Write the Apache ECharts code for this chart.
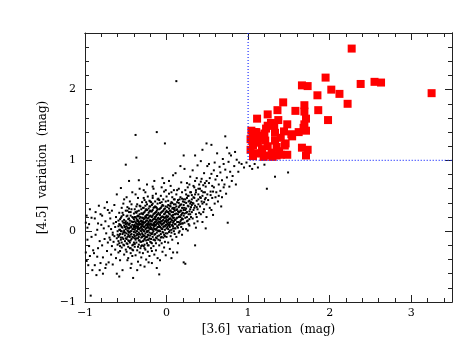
<!DOCTYPE html>
<html>
<head>
<meta charset="UTF-8">
<title>[3.6] vs [4.5] variation</title>
<script src="https://cdn.jsdelivr.net/npm/echarts@6/dist/echarts.min.js"></script>
<style>
html, body { margin: 0; padding: 0; background: #fff; }
#chart { width: 466px; height: 360px; }
</style>
</head>
<body>
<div id="chart"></div>
<script>
// all sources: [3.6] variation, [4.5] variation
var dots = [
  [-0.99,0.12],[-0.98,-0.42],[-0.97,0.05],[-0.95,-0.21],[-0.94,0.31],[-0.93,-0.91],[-0.92,-0.08],[-0.91,-0.55],
  [-0.89,-0.31],[-0.88,0.18],[-0.87,-0.05],[-0.86,-0.62],[-0.85,0.02],[-0.84,-0.24],[-0.83,0.36],[-0.82,-0.14],[-0.81,-0.45],[-0.80,0.09],
  [-0.79,-0.2],[-0.79,0.22],[-0.78,-0.37],[-0.77,0.04],[-0.76,-0.11],[-0.75,-0.52],[-0.75,0.14],[-0.74,-0.03],[-0.73,-0.28],[-0.73,0.41],[-0.72,-0.16],[-0.71,0.07],[-0.71,-0.44],[-0.70,-0.09],[-0.70,0.26],
  [-0.69,-0.12],[-0.69,0.18],[-0.68,-0.33],[-0.68,0.03],[-0.67,-0.21],[-0.67,0.29],[-0.66,-0.02],[-0.66,-0.47],[-0.65,0.11],[-0.65,-0.15],[-0.64,0.37],[-0.64,-0.07],[-0.63,-0.26],[-0.63,0.06],[-0.62,-0.38],[-0.62,0.2],[-0.61,-0.1],[-0.61,0.52],[-0.61,-0.6],[-0.60,0.0],[-0.60,-0.19],[-0.62,0.13],[-0.66,-0.05],
  [-0.59,-0.08],[-0.59,0.15],[-0.59,-0.3],[-0.58,0.02],[-0.58,-0.17],[-0.58,0.26],[-0.57,-0.04],[-0.57,0.09],[-0.57,-0.41],[-0.56,0.19],[-0.56,-0.12],[-0.56,0.0],[-0.55,-0.23],[-0.55,0.33],[-0.55,0.06],[-0.54,-0.09],[-0.54,0.14],[-0.54,-0.55],[-0.53,-0.02],[-0.53,0.23],[-0.53,-0.19],[-0.52,0.08],[-0.52,-0.33],[-0.52,0.45],[-0.51,-0.06],[-0.51,0.12],[-0.51,-0.14],[-0.50,0.03],[-0.50,0.29],[-0.50,-0.26],[-0.56,0.61],[-0.58,-0.64],[-0.53,0.39],[-0.57,-0.21],[-0.52,-0.01],
  [-0.49,-0.11],[-0.49,0.07],[-0.49,0.21],[-0.49,-0.29],[-0.48,0.01],[-0.48,-0.18],[-0.48,0.34],[-0.48,0.12],[-0.47,-0.05],[-0.47,-0.38],[-0.47,0.17],[-0.47,0.04],[-0.46,-0.14],[-0.46,0.27],[-0.46,-0.02],[-0.46,0.09],[-0.45,-0.24],[-0.45,0.15],[-0.45,-0.08],[-0.45,0.42],[-0.44,0.0],[-0.44,-0.31],[-0.44,0.22],[-0.44,-0.13],[-0.43,0.06],[-0.43,-0.46],[-0.43,0.31],[-0.43,-0.04],[-0.42,0.13],[-0.42,-0.2],[-0.42,0.03],[-0.42,0.55],[-0.41,-0.09],[-0.41,0.19],[-0.41,-0.66],[-0.41,-0.27],[-0.40,0.08],[-0.40,-0.16],[-0.40,0.25],[-0.40,-0.01],[-0.46,0.71],[-0.44,-0.52],[-0.48,-0.41],[-0.45,0.05],[-0.43,0.38],[-0.47,-0.22],[-0.42,-0.35],[-0.49,0.48],[-0.50,0.94],
  [-0.39,-0.07],[-0.39,0.14],[-0.39,0.31],[-0.39,-0.22],[-0.39,0.02],[-0.38,-0.12],[-0.38,0.2],[-0.38,0.07],[-0.38,-0.34],[-0.38,1.36],[-0.37,0.0],[-0.37,0.26],[-0.37,-0.16],[-0.37,0.11],[-0.37,1.04],[-0.36,-0.04],[-0.36,0.38],[-0.36,-0.27],[-0.36,0.16],[-0.36,0.05],[-0.35,-0.1],[-0.35,0.22],[-0.35,-0.43],[-0.35,0.09],[-0.35,0.47],[-0.34,-0.02],[-0.34,-0.19],[-0.34,0.13],[-0.34,0.29],[-0.34,-0.08],[-0.33,0.04],[-0.33,-0.3],[-0.33,0.18],[-0.33,0.6],[-0.33,-0.13],[-0.32,0.1],[-0.32,-0.05],[-0.32,0.35],[-0.32,-0.24],[-0.32,0.01],[-0.31,0.15],[-0.31,-0.15],[-0.31,0.25],[-0.31,-0.37],[-0.31,0.06],[-0.30,-0.03],[-0.30,0.19],[-0.30,-0.2],[-0.30,0.41],[-0.30,0.08],[-0.36,-0.55],[-0.38,0.52],[-0.34,0.72],[-0.32,-0.48],[-0.37,-0.06],[-0.33,0.11],[-0.35,0.03],[-0.31,-0.09],[-0.39,0.09],[-0.36,0.21],
  [-0.29,0.02],[-0.29,-0.14],[-0.29,0.24],[-0.29,0.1],[-0.29,-0.31],[-0.28,0.06],[-0.28,0.33],[-0.28,-0.07],[-0.28,0.17],[-0.28,-0.21],[-0.27,0.0],[-0.27,0.12],[-0.27,0.44],[-0.27,-0.11],[-0.27,0.27],[-0.26,-0.03],[-0.26,0.2],[-0.26,-0.26],[-0.26,0.08],[-0.26,0.55],[-0.25,0.15],[-0.25,-0.08],[-0.25,0.31],[-0.25,0.04],[-0.25,-0.4],[-0.24,0.1],[-0.24,-0.17],[-0.24,0.23],[-0.24,-0.01],[-0.24,0.38],[-0.23,0.06],[-0.23,-0.12],[-0.23,0.18],[-0.23,-0.29],[-0.23,0.49],[-0.22,0.01],[-0.22,0.26],[-0.22,-0.06],[-0.22,0.13],[-0.22,-0.2],[-0.21,0.09],[-0.21,0.35],[-0.21,-0.1],[-0.21,0.21],[-0.21,-0.35],[-0.20,0.03],[-0.20,0.16],[-0.20,-0.15],[-0.20,0.42],[-0.20,0.07],[-0.27,-0.5],[-0.24,0.66],[-0.22,-0.44],[-0.28,0.58],[-0.26,0.36],[-0.23,0.0],[-0.29,0.14],[-0.21,-0.02],[-0.25,0.22],[-0.27,-0.19],[-0.24,0.05],[-0.2,0.29],[-0.28,0.47],[-0.22,0.32],[-0.26,-0.09],[-0.23,0.11],
  [-0.19,0.05],[-0.19,-0.11],[-0.19,0.28],[-0.19,0.14],[-0.19,-0.24],[-0.18,0.09],[-0.18,0.37],[-0.18,-0.04],[-0.18,0.2],[-0.18,-0.17],[-0.17,0.02],[-0.17,0.16],[-0.17,0.47],[-0.17,-0.08],[-0.17,0.3],[-0.16,0.0],[-0.16,0.24],[-0.16,-0.21],[-0.16,0.11],[-0.16,0.6],[-0.15,0.18],[-0.15,-0.05],[-0.15,0.34],[-0.15,0.07],[-0.15,-0.33],[-0.14,0.13],[-0.14,-0.13],[-0.14,0.26],[-0.14,0.03],[-0.14,0.42],[-0.13,0.09],[-0.13,-0.09],[-0.13,0.21],[-0.13,-0.27],[-0.13,0.53],[-0.12,0.04],[-0.12,0.29],[-0.12,-0.02],[-0.12,0.16],[-0.12,1.4],[-0.11,0.12],[-0.11,0.39],[-0.11,-0.07],[-0.11,0.24],[-0.11,-0.38],[-0.10,0.06],[-0.10,0.19],[-0.10,-0.12],[-0.10,0.46],[-0.10,0.1],[-0.18,-0.45],[-0.15,0.71],[-0.12,-0.52],[-0.17,0.63],[-0.14,0.35],[-0.16,0.08],[-0.19,0.41],[-0.11,0.01],[-0.13,0.27],[-0.18,-0.28],[-0.15,0.12],[-0.09,-0.61],[-0.17,0.5],[-0.12,0.33],[-0.16,-0.12],[-0.14,0.17],
  [-0.09,0.08],[-0.09,-0.06],[-0.09,0.31],[-0.09,0.17],[-0.09,-0.2],[-0.08,0.12],[-0.08,0.4],[-0.08,0.0],[-0.08,0.23],[-0.08,-0.13],[-0.07,0.05],[-0.07,0.19],[-0.07,0.5],[-0.07,-0.04],[-0.07,0.33],[-0.06,0.03],[-0.06,0.27],[-0.06,-0.17],[-0.06,0.14],[-0.06,0.62],[-0.05,0.21],[-0.05,-0.01],[-0.05,0.37],[-0.05,0.1],[-0.05,-0.29],[-0.04,0.16],[-0.04,-0.09],[-0.04,0.29],[-0.04,0.06],[-0.04,0.45],[-0.03,0.12],[-0.03,-0.05],[-0.03,0.24],[-0.03,-0.23],[-0.03,0.56],[-0.02,0.07],[-0.02,0.32],[-0.02,0.02],[-0.02,0.19],[-0.02,1.24],[-0.01,0.15],[-0.01,0.42],[-0.01,-0.03],[-0.01,0.27],[-0.01,-0.34],[0.0,0.09],[0.0,0.22],[0.0,-0.08],[0.0,0.49],[0.0,0.13],[-0.08,-0.41],[-0.05,0.75],[-0.03,0.68],[-0.06,0.35],[-0.09,0.44],[-0.02,-0.15],[-0.07,0.11],[-0.04,0.2],[-0.01,0.58],[-0.06,-0.08],
  [0.01,0.11],[0.01,-0.03],[0.01,0.34],[0.01,0.2],[0.02,0.15],[0.02,0.43],[0.02,0.03],[0.02,-0.16],[0.03,0.25],[0.03,0.08],[0.03,0.53],[0.03,-0.01],[0.04,0.18],[0.04,0.36],[0.04,0.06],[0.04,-0.25],[0.05,0.13],[0.05,0.29],[0.05,-0.07],[0.05,0.64],[0.06,0.22],[0.06,0.02],[0.06,0.41],[0.06,0.16],[0.07,0.09],[0.07,0.32],[0.07,-0.12],[0.07,0.48],[0.08,0.19],[0.08,0.04],[0.08,0.27],[0.08,-0.3],[0.09,0.14],[0.09,0.38],[0.09,0.0],[0.09,0.58],[0.1,0.24],[0.1,0.1],[0.1,-0.04],[0.1,0.45],[0.12,2.12],[0.03,0.71],[0.06,-0.38],[0.08,0.79],[0.02,0.27],[0.04,0.1],[0.07,0.21],[0.09,0.31],[0.05,0.39],[0.01,0.06],[0.03,0.17],[0.06,0.55],[0.08,0.12],[0.1,0.33],
  [0.11,0.16],[0.11,0.38],[0.11,0.04],[0.12,0.25],[0.12,-0.08],[0.12,0.52],[0.13,0.19],[0.13,0.31],[0.13,0.07],[0.14,0.44],[0.14,0.13],[0.14,-0.17],[0.15,0.27],[0.15,0.6],[0.15,0.09],[0.16,0.21],[0.16,0.36],[0.16,0.0],[0.17,0.14],[0.17,0.48],[0.17,0.29],[0.18,0.06],[0.18,0.23],[0.18,0.69],[0.19,0.33],[0.19,0.11],[0.19,-0.05],[0.2,0.26],[0.2,0.42],[0.2,0.17],[0.11,0.82],[0.13,-0.3],[0.15,0.4],[0.17,0.92],[0.19,0.55],[0.14,0.24],[0.16,0.12],[0.12,0.35],[0.18,0.38],[0.2,0.03],[0.13,0.58],[0.17,0.2],[0.15,-0.02],[0.19,0.18],[0.21,-0.44],
  [0.21,0.22],[0.21,0.45],[0.22,0.12],[0.22,0.33],[0.23,0.58],[0.23,0.19],[0.24,0.03],[0.24,0.4],[0.25,0.27],[0.25,0.68],[0.26,0.15],[0.26,0.36],[0.27,0.5],[0.27,0.24],[0.28,0.08],[0.28,0.43],[0.29,0.31],[0.29,0.77],[0.3,0.2],[0.3,0.55],[0.22,0.88],[0.24,0.26],[0.26,0.62],[0.28,0.17],[0.23,-0.46],[0.25,0.47],[0.27,0.1],[0.29,0.39],[0.21,0.3],[0.3,0.34],[0.24,0.52],[0.26,0.01],[0.28,0.66],[0.22,0.41],[0.25,0.14],[0.29,0.24],[0.21,1.07],
  [0.31,0.27],[0.31,0.51],[0.32,0.18],[0.32,0.4],[0.33,0.64],[0.33,0.3],[0.34,0.11],[0.34,0.47],[0.35,0.36],[0.35,-0.2],[0.36,0.58],[0.36,0.24],[0.37,0.43],[0.37,0.75],[0.38,0.31],[0.38,0.14],[0.39,0.52],[0.39,0.38],[0.4,0.66],[0.4,0.26],[0.32,0.86],[0.34,0.33],[0.36,0.05],[0.38,0.93],[0.33,0.48],[0.35,0.71],[0.37,0.2],[0.39,0.45],[0.31,0.37],[0.36,0.55],[0.35,1.07],
  [0.41,0.35],[0.41,0.6],[0.42,0.24],[0.42,0.47],[0.43,0.74],[0.44,0.39],[0.44,0.13],[0.45,0.55],[0.46,0.31],[0.46,0.82],[0.47,0.45],[0.48,0.63],[0.48,0.04],[0.49,0.38],[0.5,0.52],[0.5,0.92],[0.43,0.57],[0.45,0.27],[0.47,0.68],[0.49,0.2],[0.42,0.99],[0.44,0.5],[0.46,0.41],[0.48,0.47],[0.44,1.15],[0.49,1.24],
  [0.51,0.44],[0.52,0.68],[0.53,0.33],[0.54,0.56],[0.55,0.81],[0.56,0.47],[0.57,0.23],[0.58,0.62],[0.59,0.39],[0.6,0.73],[0.52,0.95],[0.54,0.51],[0.56,0.64],[0.58,0.86],[0.6,0.48],[0.53,0.75],[0.57,0.56],[0.59,0.97],[0.55,0.3],[0.55,1.22],
  [0.61,0.55],[0.62,0.78],[0.63,0.42],[0.64,0.66],[0.65,0.91],[0.66,0.57],[0.67,0.35],[0.68,0.72],[0.69,1.02],[0.7,0.62],[0.62,1.1],[0.64,0.5],[0.66,0.83],[0.68,0.48],[0.7,0.95],
  [0.71,0.66],[0.72,0.87],[0.73,0.53],[0.74,0.76],[0.75,0.12],[0.76,0.98],[0.77,0.63],[0.78,0.84],[0.79,1.07],[0.8,0.71],[0.74,1.18],[0.72,1.34],[0.77,1.1],
  [0.81,0.78],[0.83,0.92],[0.85,0.66],[0.86,1.01],[0.88,0.84],[0.89,0.97],[0.84,1.12],
  [0.92,0.95],[0.95,0.9],[0.98,0.97],[1.02,0.92],[1.05,0.88],[1.08,0.95],[1.12,0.9],[1.2,0.94],[1.23,0.6],[1.33,0.77],[1.49,0.83]
];

// extra sources where the cloud is densest, and along the left edge
var denseDots = [
  [-0.99,-0.3],[-0.98,0.22],[-0.97,-0.12],[-0.96,-0.48],[-0.95,0.1],[-0.94,-0.35],[-0.92,0.19],[-0.9,-0.27],[-0.88,-0.48],[-0.87,0.27],[-0.85,-0.36],[-0.84,0.11],[-0.82,-0.55],[-0.81,0.24],[-0.78,-0.6],[-0.76,0.33],[-0.74,-0.47],[-0.72,0.3],
  [-0.6,-0.05],[-0.59,0.07],[-0.59,-0.14],[-0.58,0.1],[-0.58,-0.06],[-0.57,0.02],[-0.57,0.17],[-0.56,-0.09],[-0.56,0.08],[-0.55,-0.16],[-0.55,0.0],[-0.55,0.21],[-0.54,0.05],[-0.54,-0.04],[-0.53,0.12],[-0.53,-0.11],[-0.52,0.01],[-0.52,0.16],[-0.52,-0.2],[-0.51,0.06],[-0.51,-0.02],[-0.5,0.1],[-0.5,-0.1],[-0.54,0.26],[-0.57,-0.28],
  [-0.5,0.14],[-0.49,-0.03],[-0.49,0.11],[-0.49,-0.17],[-0.48,0.05],[-0.48,-0.08],[-0.48,0.22],[-0.47,0.0],[-0.47,0.1],[-0.47,-0.13],[-0.46,0.04],[-0.46,0.18],[-0.46,-0.07],[-0.45,0.11],[-0.45,-0.01],[-0.45,-0.16],[-0.44,0.07],[-0.44,0.27],[-0.44,-0.05],[-0.43,0.14],[-0.43,0.0],[-0.43,-0.11],[-0.42,0.09],[-0.42,0.2],[-0.42,-0.08],[-0.41,0.03],[-0.41,0.13],[-0.41,-0.19],[-0.4,0.06],[-0.4,0.17],[-0.4,-0.05],[-0.46,0.32],[-0.44,-0.24],[-0.48,0.29],[-0.42,-0.26],
  [-0.39,0.05],[-0.39,0.2],[-0.39,-0.1],[-0.38,0.12],[-0.38,-0.02],[-0.38,0.27],[-0.37,0.07],[-0.37,-0.1],[-0.37,0.18],[-0.36,0.0],[-0.36,0.1],[-0.36,0.28],[-0.35,-0.05],[-0.35,0.15],[-0.35,0.06],[-0.34,0.21],[-0.34,0.03],[-0.34,-0.13],[-0.33,0.09],[-0.33,0.24],[-0.33,-0.04],[-0.32,0.14],[-0.32,0.05],[-0.32,-0.15],[-0.31,0.1],[-0.31,0.31],[-0.31,0.0],[-0.3,0.13],[-0.3,-0.08],[-0.3,0.25],[-0.39,-0.18],[-0.37,0.35],[-0.35,-0.22],[-0.33,0.36],[-0.31,-0.21],[-0.38,0.04],[-0.36,0.14],[-0.34,0.1],[-0.32,0.2],[-0.3,0.03],
  [-0.29,0.07],[-0.29,0.19],[-0.29,-0.05],[-0.28,0.12],[-0.28,0.0],[-0.28,0.26],[-0.27,0.06],[-0.27,0.18],[-0.27,-0.06],[-0.26,0.13],[-0.26,0.03],[-0.26,0.29],[-0.25,0.09],[-0.25,-0.13],[-0.25,0.19],[-0.24,0.0],[-0.24,0.15],[-0.24,0.3],[-0.23,0.08],[-0.23,-0.05],[-0.23,0.23],[-0.22,0.1],[-0.22,0.19],[-0.22,-0.12],[-0.21,0.04],[-0.21,0.15],[-0.21,0.28],[-0.2,0.11],[-0.2,-0.06],[-0.2,0.22],[-0.29,0.33],[-0.27,-0.24],[-0.25,0.41],[-0.23,-0.2],[-0.21,0.43],[-0.28,-0.13],[-0.26,0.21],[-0.24,-0.08],[-0.22,0.05],[-0.2,0.35],
  [-0.19,0.1],[-0.19,0.21],[-0.19,-0.03],[-0.18,0.14],[-0.18,0.03],[-0.18,0.28],[-0.17,0.09],[-0.17,0.22],[-0.17,-0.02],[-0.16,0.17],[-0.16,0.05],[-0.16,0.33],[-0.15,0.1],[-0.15,0.25],[-0.15,-0.12],[-0.14,0.08],[-0.14,0.2],[-0.14,-0.04],[-0.13,0.14],[-0.13,0.34],[-0.13,0.02],[-0.12,0.11],[-0.12,0.23],[-0.12,-0.1],[-0.11,0.18],[-0.11,0.06],[-0.11,0.31],[-0.1,0.14],[-0.1,0.26],[-0.1,0.0],[-0.19,-0.16],[-0.17,0.39],[-0.15,0.03],[-0.13,-0.17],[-0.11,0.45],
  [-0.09,0.13],[-0.09,0.24],[-0.09,0.01],[-0.08,0.17],[-0.08,0.06],[-0.08,0.32],[-0.07,0.14],[-0.07,0.26],[-0.07,-0.09],[-0.06,0.2],[-0.06,0.09],[-0.06,0.41],[-0.05,0.15],[-0.05,0.28],[-0.05,0.03],[-0.04,0.11],[-0.04,0.36],[-0.04,-0.02],[-0.03,0.19],[-0.03,0.31],[-0.03,0.07],[-0.02,0.14],[-0.02,0.25],[-0.02,-0.07],[-0.01,0.2],[-0.01,0.09],[-0.01,0.35],[0.0,0.17],[0.0,0.29],[0.0,0.04],
  [0.01,0.15],[0.01,0.27],[0.02,0.09],[0.02,0.21],[0.03,0.32],[0.03,0.12],[0.04,0.24],[0.04,0.01],[0.05,0.18],[0.05,0.35],[0.06,0.08],[0.06,0.27],[0.07,0.15],[0.07,0.4],[0.08,0.23],[0.08,0.07],[0.09,0.19],[0.09,0.45],[0.1,0.16],[0.1,0.29],[0.02,0.37],[0.04,0.29],[0.06,-0.02],[0.08,0.33],[0.1,0.04],
  [0.11,0.24],[0.11,0.1],[0.12,0.3],[0.12,0.18],[0.13,0.41],[0.13,0.13],[0.14,0.28],[0.14,0.05],[0.15,0.2],[0.15,0.34],[0.16,0.27],[0.16,0.45],[0.17,0.1],[0.17,0.37],[0.18,0.29],[0.18,0.16],[0.19,0.25],[0.19,0.46],[0.2,0.33],[0.2,0.11],
  [0.21,0.37],[0.22,0.25],[0.23,0.45],[0.24,0.32],[0.25,0.2],[0.26,0.5],[0.27,0.35],[0.28,0.28],[0.29,0.55],[0.3,0.41],[0.23,0.3],[0.27,0.42],
  [0.31,0.45],[0.33,0.39],[0.35,0.52],[0.37,0.34],[0.39,0.6],[0.41,0.48],[0.43,0.42],[0.45,0.65],[0.47,0.55],[0.49,0.71],[0.34,0.62],[0.42,0.7]
];

// selected sources (both variations > 1 mag)
var bigVar = [
  [2.27,2.58],[1.95,2.17],[1.66,2.06],[1.73,2.05],[2.38,2.08],[2.55,2.11],[2.63,2.10],[3.25,1.95],
  [2.02,2.0],[2.12,1.94],[1.85,1.92],[2.22,1.80],[1.43,1.82],[1.69,1.78],[1.36,1.71],[1.58,1.70],
  [1.86,1.71],[1.69,1.69],[1.24,1.65],[1.98,1.57],[1.11,1.59],[1.71,1.59],[1.37,1.57],[1.28,1.53],
  [1.48,1.51],[1.69,1.51],[1.32,1.49],[1.22,1.45],[1.08,1.40],[1.44,1.41],[1.62,1.40],[1.71,1.42],
  [1.33,1.39],[1.06,1.35],[1.13,1.32],[1.54,1.34],[1.40,1.32],[1.05,1.28],[1.21,1.28],[1.33,1.28],
  [1.46,1.24],[1.06,1.21],[1.17,1.16],[1.35,1.19],[1.66,1.18],[1.73,1.15],[1.38,1.13],[1.29,1.11],
  [1.06,1.06],[1.48,1.08],[1.26,1.07],[1.71,1.07],[1.30,1.05],[1.40,1.08],[1.04,1.42],[1.10,1.40],
  [1.16,1.10],[1.35,1.07],[1.03,1.15],[1.12,1.25],[1.09,1.10],[1.19,1.05],[1.15,1.35],[1.03,1.30],
  [1.24,1.20],[1.20,1.38],[1.53,1.37],[1.68,1.46],[1.45,1.21],[1.24,1.49]
];

// dotted selection limits
var cutLine = [[1, 2.8], [1, 1], [3.5, 1]];

var xRange = [-1, 3.5];
var yRange = [-1, 2.8];

var chart = echarts.init(document.getElementById('chart'));

var serif = 'DejaVu Serif';
var frame = '#222';

function minusFmt(v) {
  return String(v).replace('-', '\u2212');
}

// one axis per side for the long ticks (with labels) and one for the short ticks
function axis(range, pos, step, len, labels, name) {
  var a = {
    type: 'value',
    position: pos,
    min: range[0],
    max: range[1],
    interval: step,
    splitLine: { show: false },
    axisLine: { show: labels || pos == 'top' || pos == 'right', onZero: false, lineStyle: { color: frame, width: 1 } },
    axisTick: { show: true, inside: true, length: len, lineStyle: { color: frame, width: 1 } },
    axisLabel: { show: labels, showMaxLabel: false, formatter: minusFmt, color: '#000', fontFamily: serif, fontSize: 11 }
  };
  if (name) {
    a.name = name;
    a.nameLocation = 'middle';
    a.nameTextStyle = { color: '#000', fontFamily: serif, fontSize: 12 };
  }
  return a;
}

var xa = [
  axis(xRange, 'bottom', 1, 7, true, '[3.6]  variation  (mag)'),
  axis(xRange, 'bottom', 0.2, 4, false),
  axis(xRange, 'top', 1, 7, false),
  axis(xRange, 'top', 0.2, 4, false)
];
xa[0].axisLabel.margin = 6;
xa[0].nameGap = 19;

var ya = [
  axis(yRange, 'left', 1, 7, true, '[4.5]  variation  (mag)'),
  axis(yRange, 'left', 0.2, 4, false),
  axis(yRange, 'right', 1, 7, false),
  axis(yRange, 'right', 0.2, 4, false)
];
ya[0].axisLabel.margin = 9;
ya[0].nameGap = 15;

var option = {
  animation: false,
  backgroundColor: '#fff',
  grid: { left: 85, right: 14, top: 33, bottom: 58 },
  xAxis: xa,
  yAxis: ya,
  series: [
    {
      type: 'scatter',
      data: dots.concat(denseDots),
      symbol: 'rect',
      symbolSize: 2,
      itemStyle: { color: '#000', opacity: 1 },
      silent: true,
      z: 2
    },
    {
      type: 'scatter',
      data: bigVar,
      symbol: 'rect',
      symbolSize: 8,
      itemStyle: { color: '#ff0000', opacity: 1 },
      silent: true,
      z: 3
    },
    {
      type: 'line',
      data: cutLine,
      symbol: 'none',
      lineStyle: { color: '#2233ff', width: 1.2, type: [1, 2] },
      silent: true,
      z: 4
    }
  ]
};
chart.setOption(option);
</script>
</body>
</html>
